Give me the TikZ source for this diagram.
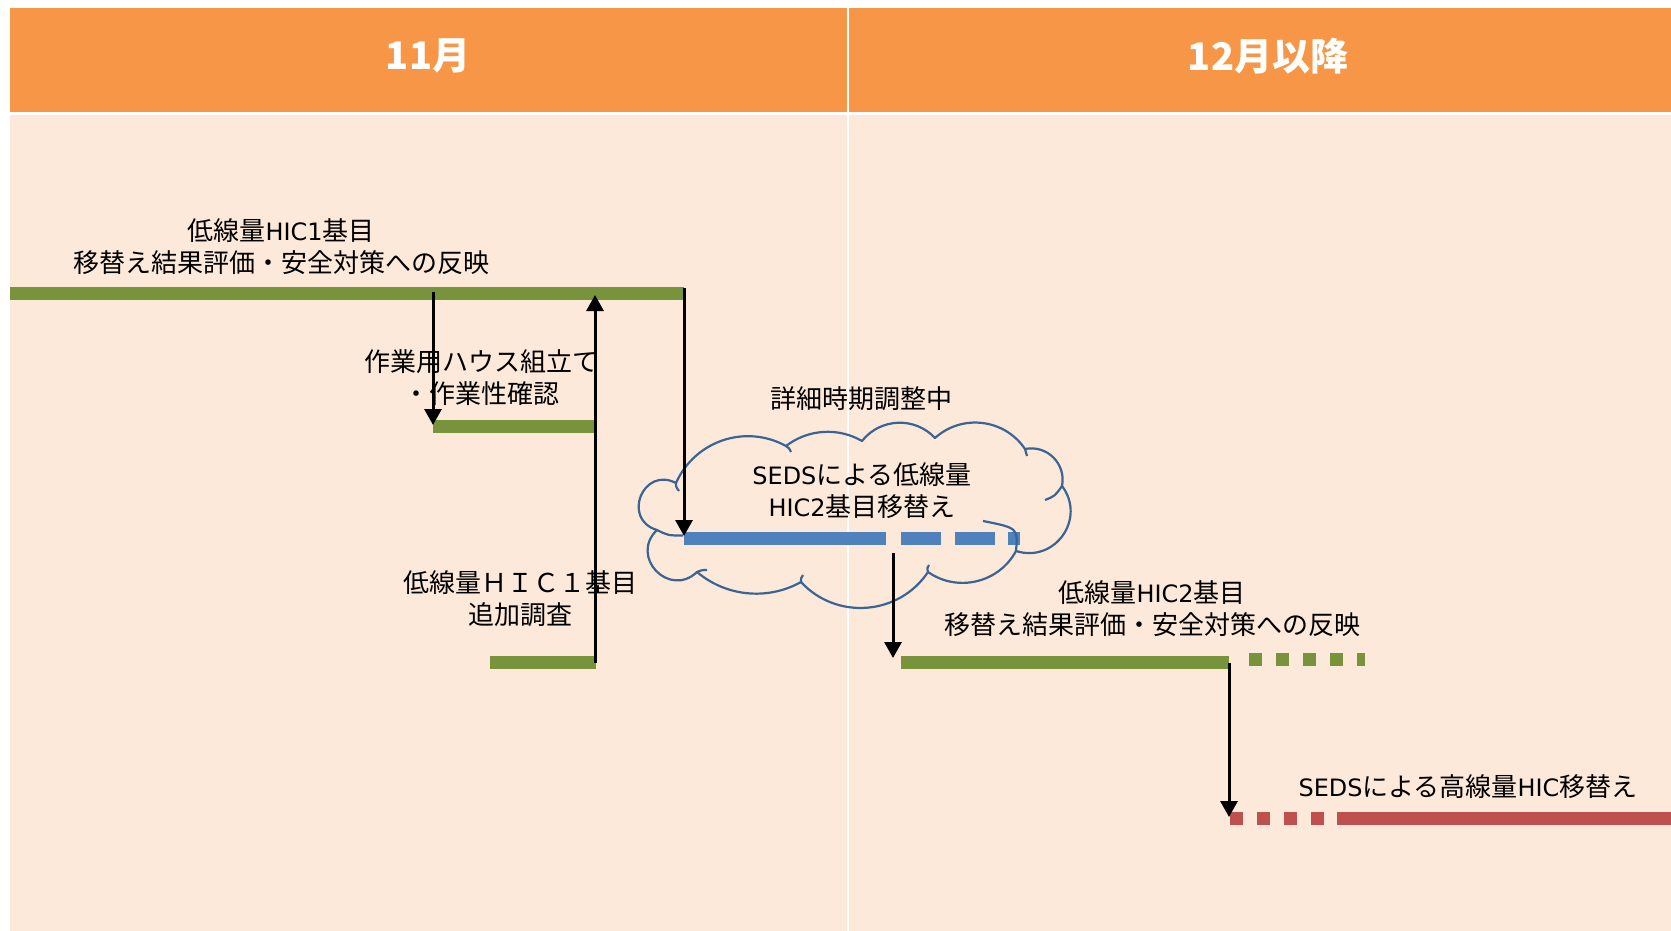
\documentclass[tikz,border=0pt]{standalone}
\usepackage{fontspec}
\setmainfont{Noto Sans CJK JP}
\newfontfamily\lat{DejaVu Sans}[Scale=0.92]
\usetikzlibrary{arrows.meta}
\definecolor{hdrc}{HTML}{F79646}
\definecolor{bodyc}{HTML}{FDE9D9}
\definecolor{grn}{HTML}{77933C}
\definecolor{blu}{HTML}{4F81BD}
\definecolor{redc}{HTML}{C0504D}
\definecolor{cloudc}{HTML}{3A6496}
\begin{document}
\begin{tikzpicture}[x=1pt,y=-1pt,
  bar/.style={line width=13pt},
  arr/.style={line width=3pt,-{Triangle[width=17pt,length=16pt]}},
  cloudline/.style={draw=cloudc,line width=2.2pt,line join=round},
  lbl/.style={font=\fontsize{26}{32}\selectfont,align=center,inner sep=0pt,text=black},
  hdrtxt/.style={font=\bfseries\fontsize{38}{42}\selectfont,text=white,inner sep=0pt}]
\useasboundingbox (0,0) rectangle (1671,931);
% background
\fill[bodyc] (10,115) rectangle (1671,931);
\fill[hdrc] (10,8) rectangle (1671,112);
\draw[white,line width=1.5pt] (848,8) -- (848,931);
% headers
\node[hdrtxt] (h1) at (428,56) {11月};
\node[hdrtxt] (h2) at (1268,56) {12月以降};
% bar coordinates
\coordinate (b1s) at (10,293);
\coordinate (b1e) at (684,293);
\coordinate (b2s) at (433,426.5);
\coordinate (b2e) at (594,426.5);
\coordinate (b3s) at (490,662.5);
\coordinate (b3e) at (596,662.5);
\coordinate (bus) at (684,538);
\coordinate (bue) at (886,538);
\coordinate (bds) at (901,538);
\coordinate (bde) at (1020,538);
\coordinate (g4s) at (901,662.5);
\coordinate (g4e) at (1229,662.5);
\coordinate (g4ds) at (1249,659.5);
\coordinate (g4de) at (1365,659.5);
\coordinate (rds) at (1230,818.5);
\coordinate (rde) at (1337,818.5);
\coordinate (re) at (1671,818.5);
% bars
\draw[bar,grn] (b1s) -- (b1e);
\draw[bar,grn] (b2s) -- (b2e);
\draw[bar,grn] (b3s) -- (b3e);
\draw[bar,blu] (bus) -- (bue);
\draw[bar,blu,dash pattern=on 40pt off 13.5pt] (bds) -- (bde);
\draw[bar,grn] (g4s) -- (g4e);
\draw[bar,grn,dash pattern=on 13pt off 14pt] (g4ds) -- (g4de);
\draw[bar,redc,dash pattern=on 13pt off 14pt] (rds) -- (rde);
\draw[bar,redc] (rde) -- (re);
% cloud cusps
\coordinate (c0) at (657,530);
\coordinate (c1) at (676,483);
\coordinate (c2) at (786,446);
\coordinate (c3) at (862,441);
\coordinate (c4) at (935,438);
\coordinate (c5) at (1025,449);
\coordinate (c6) at (1062,486);
\coordinate (c7) at (1016,551);
\coordinate (c8) at (928,572);
\coordinate (c9) at (801,582);
\coordinate (c10) at (697,572);
\draw[cloudline] (c0)
  to[bend left=95.5,looseness=1.88] (c1)
  to[bend left=47.4,looseness=1.02] (c2)
  to[bend left=33.9,looseness=0.93] (c3)
  to[bend left=49.4,looseness=1.03] (c4)
  to[bend left=49.1,looseness=1.03] (c5)
  to[bend left=56.3,looseness=1.10] (c6)
  to[bend left=72.3,looseness=1.31] (c7)
  to[bend left=48.4,looseness=1.02] (c8)
  to[bend left=51.9,looseness=1.05] (c9)
  to[bend left=34.7,looseness=0.935] (c10)
  to[bend left=90,looseness=1.70] cycle;
% cloud inner ticks
\coordinate (k0) at (683,535.5);
\coordinate (k1) at (679,491);
\coordinate (k2) at (791,452);
\coordinate (k5) at (1027,456);
\coordinate (k6) at (1045,500);
\coordinate (k7) at (983,521);
\coordinate (k8) at (929,565);
\coordinate (k9) at (803,575);
\coordinate (k10) at (707,570);
\draw[cloudline] (c0) .. controls (668,535.5) .. (k0);
\draw[cloudline] (c1) .. controls (676,487) .. (k1);
\draw[cloudline] (c2) .. controls (789,448) .. (k2);
\draw[cloudline] (c5) .. controls (1026,452) .. (k5);
\draw[cloudline] (c6) .. controls (1055,496) .. (k6);
\draw[cloudline] (c7) .. controls (1018,528) .. (k7);
\draw[cloudline] (c8) .. controls (927,568) .. (k8);
\draw[cloudline] (c9) .. controls (801,578) .. (k9);
\draw[cloudline] (c10) .. controls (702,570) .. (k10);
% arrow end points
\coordinate (a1s) at (433,292);
\coordinate (a1e) at (433,425);
\coordinate (a2s) at (595,663);
\coordinate (a2e) at (595,295);
\coordinate (a3s) at (684,288);
\coordinate (a3e) at (684,536);
\coordinate (a4s) at (893,553);
\coordinate (a4e) at (893,658);
\coordinate (a5s) at (1229,663);
\coordinate (a5e) at (1229,817);
\draw[arr] (a1s) -- (a1e);
\draw[arr] (a2s) -- (a2e);
\draw[arr] (a3s) -- (a3e);
\draw[arr] (a4s) -- (a4e);
\draw[arr] (a5s) -- (a5e);
% labels
\node[lbl] (t1) at (281,247) {低線量{\lat HIC1}基目\\移替え結果評価・安全対策への反映};
\node[lbl] (t2) at (481,378) {作業用ハウス組立て\\・作業性確認};
\node[lbl] (t3) at (520,599) {低線量ＨＩＣ１基目\\追加調査};
\node[lbl] (t4) at (861,399) {詳細時期調整中};
\node[lbl] (t5) at (862,491) {{\lat SEDS}による低線量\\{\lat HIC2}基目移替え};
\node[lbl] (t6) at (1152,609) {低線量{\lat HIC2}基目\\移替え結果評価・安全対策への反映};
\node[lbl] (t7) at (1468,787) {{\lat SEDS}による高線量{\lat HIC}移替え};
\end{tikzpicture}
\end{document}
